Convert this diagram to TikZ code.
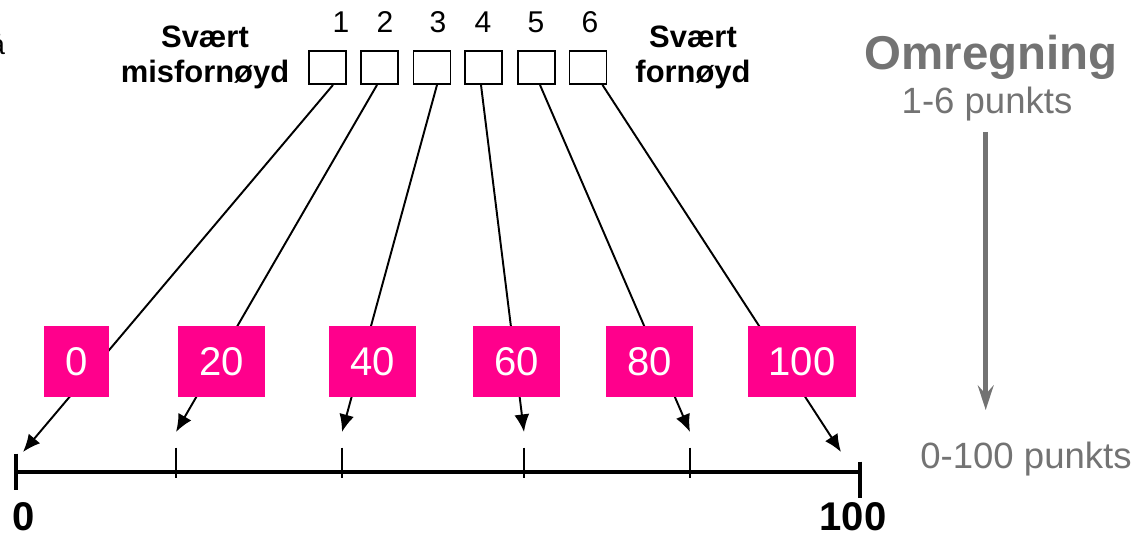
\documentclass[tikz,border=0pt]{standalone}
\usepackage{fontspec}
\setmainfont{Liberation Sans}
\usetikzlibrary{arrows.meta}
\definecolor{scorepink}{RGB}{255,0,140}
\definecolor{convgray}{RGB}{115,115,115}

\begin{document}
\begin{tikzpicture}[
        x=0.02cm,
        y=-0.02cm,
        every path/.style={>={Latex[length=10pt,width=8.5pt]}},
        inner sep=0pt,
        line width=1.1pt,
        answer/.style={draw,rectangle,minimum width=0.74cm,minimum height=0.66cm},
        score/.style={fill=scorepink,text=white,inner xsep=0.42cm,minimum height=1.42cm,font=\fontsize{22.8pt}{26pt}\selectfont},
        digit/.style={anchor=base,font=\fontsize{17.1pt}{20pt}\selectfont},
        endlabel/.style={anchor=north,align=center,font=\bfseries\fontsize{17.6pt}{19.9pt}\selectfont},
        axislabel/.style={anchor=base,font=\bfseries\fontsize{22.8pt}{26pt}\selectfont},
        convtext/.style={anchor=base,text=convgray,font=\fontsize{20.8pt}{24pt}\selectfont}
        ]

        \useasboundingbox (0,0) rectangle (1136,537);

        % nodes
        \node[anchor=base east,font=\fontsize{16pt}{18pt}\selectfont] (cut) at (6,55) {å};

        \node[answer] (b1) at (327.5,67.5) {};
        \node[answer] (b2) at (379.5,67.5) {};
        \node[answer] (b3) at (432,67.5)   {};
        \node[answer] (b4) at (483.5,67.5) {};
        \node[answer] (b5) at (536.5,67.5) {};
        \node[answer] (b6) at (588,67.5)   {};

        \node[digit] (n1) at (341,33) {1};
        \node[digit] (n2) at (385,33) {2};
        \node[digit] (n3) at (438,33) {3};
        \node[digit] (n4) at (483,33) {4};
        \node[digit] (n5) at (536,33) {5};
        \node[digit] (n6) at (590,33) {6};

        \node[endlabel] (lo) at (205,25) {Svært\\misfornøyd};
        \node[endlabel] (hi) at (693,25) {Svært\\fornøyd};

        % axis
        \coordinate (a0)   at (16,471.7);
        \coordinate (a100) at (860,471.7);
        \coordinate (k20)  at (176,471.7);
        \coordinate (k40)  at (342,471.7);
        \coordinate (k60)  at (524,471.7);
        \coordinate (k80)  at (690,471.7);

        \draw[line width=2.3pt] (a0) -- (a100);
        \draw[line width=2.8pt] (a0) ++(0,-18) -- ++(0,36);
        \draw[line width=2.8pt] (a100) ++(0,-10) -- ++(0,36);
        \draw (k20) ++(0,-24) -- ++(0,30);
        \draw (k40) ++(0,-24) -- ++(0,30);
        \draw (k60) ++(0,-24) -- ++(0,30);
        \draw (k80) ++(0,-24) -- ++(0,30);

        \node[axislabel] (l0)   at (24,530)  {0};
        \node[axislabel] (l100) at (853,530) {100};

        % arrow tips
        \coordinate (t0)   at (23,452);
        \coordinate (t20)  at (176,432);
        \coordinate (t40)  at (342,432);
        \coordinate (t60)  at (524,432);
        \coordinate (t80)  at (690,432);
        \coordinate (t100) at (841,452);

        % edges
        \draw[->] ([xshift=0.11cm]b1.south)  -- (t0);
        \draw[->] ([xshift=-0.05cm]b2.south) -- (t20);
        \draw[->] ([xshift=0.1cm]b3.south)   -- (t40);
        \draw[->] ([xshift=-0.05cm]b4.south) -- (t60);
        \draw[->] ([xshift=0.07cm]b5.south)  -- (t80);
        \draw[->] ([xshift=0.29cm]b6.south)  -- (t100);

        % scores
        \node[score] (p0)   at (76.5,361.5)  {0};
        \node[score] (p20)  at (221.5,361.5) {20};
        \node[score] (p40)  at (372.5,361.5) {40};
        \node[score] (p60)  at (516.5,361.5) {60};
        \node[score] (p80)  at (649.5,361.5) {80};
        \node[score] (p100) at (802,361.5)   {100};

        % conversion
        \node[anchor=base,text=convgray,font=\bfseries\fontsize{27pt}{30pt}\selectfont] (omr) at (991,70) {Omregning};
        \node[convtext] (pkt6)   at (987,113)  {1-6 punkts};
        \node[convtext] (pkt100) at (1026,468) {0-100 punkts};

        \coordinate (g1) at (985.7,132);
        \coordinate (g2) at (985.7,410);
        \draw[convgray,line width=2.8pt,-{Stealth[length=14pt,width=9pt,inset=5pt]}] (g1) -- (g2);

    \end{tikzpicture}
\end{document}
